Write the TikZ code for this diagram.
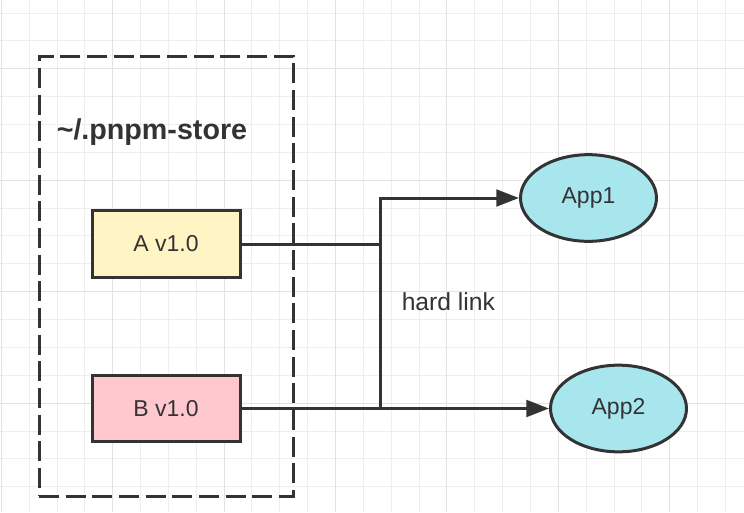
\documentclass[tikz,border=0pt]{standalone}
\usepackage{fontspec}
\setmainfont{Liberation Sans}
\usetikzlibrary{arrows.meta,shapes.geometric}
\definecolor{edge}{HTML}{333333}
\definecolor{gridminor}{HTML}{EEEEEE}
\definecolor{gridmajor}{HTML}{E2E2E2}
\definecolor{pkgA}{HTML}{FFF4C3}
\definecolor{pkgB}{HTML}{FFC8CE}
\definecolor{appfill}{HTML}{A8E6EE}

\begin{document}
\begin{tikzpicture}[x=0.75pt, y=-0.75pt,
  minor/.style={draw=gridminor, line width=0.75pt},
  major/.style={draw=gridmajor, line width=0.75pt},
  pkg/.style={draw=edge, line width=2.25pt, minimum width=111pt, minimum height=50pt,
    text=edge, font=\fontsize{17.25}{20}\selectfont},
  app/.style={ellipse, draw=edge, fill=appfill, line width=2.25pt, minimum width=102pt,
    minimum height=65pt, inner sep=0pt, text=edge, font=\fontsize{17.25}{20}\selectfont},
  link/.style={draw=edge, line width=2.25pt},
  tip/.style={-{Triangle[length=17pt,width=12.5pt]}}]
\useasboundingbox (0,0) rectangle (744,512);
\fill [white] (0,0) rectangle (744,512);

\foreach \i in {0,...,26}
  \draw [minor] ({1.3+27.85*\i},0) -- ({1.3+27.85*\i},512);
\foreach \j in {0,...,17}
  \draw [minor] (0,{13+27.87*\j}) -- (744,{13+27.87*\j});
\foreach \i in {0,4,...,24}
  \draw [major] ({1.3+27.85*\i},0) -- ({1.3+27.85*\i},512);
\foreach \j in {2,6,10,14}
  \draw [major] (0,{13+27.87*\j}) -- (744,{13+27.87*\j});

\node [draw=edge, line width=2.25pt, dash pattern=on 15pt off 5pt, minimum width=190.5pt,
  minimum height=330pt] (store) at (166,276) {};
\node [anchor=base west, inner sep=0pt, text=edge, font=\fontsize{21.5}{24}\selectfont\bfseries]
  (storelbl) at (56.5,139) {\textasciitilde/.pnpm-store};

\node [pkg, fill=pkgA] (a) at (166,244) {A v1.0};
\node [pkg, fill=pkgB] (b) at (166,408.5) {B v1.0};

\node [app] (app1) at (588.5,198) {App1};
\node [app] (app2) at (618.5,408.5) {App2};

\coordinate (jn) at (380.7,408.5);
\draw [link] (a.east) -- (a.east -| jn);
\draw [link,tip] (jn) |- (app1.west);
\draw [link,tip] (b.east) -- (app2.west);

\node [anchor=base west, inner sep=0pt, text=edge, font=\fontsize{18.5}{21}\selectfont]
  (hl) at (401.5,310.7) {hard link};
\end{tikzpicture}
\end{document}
